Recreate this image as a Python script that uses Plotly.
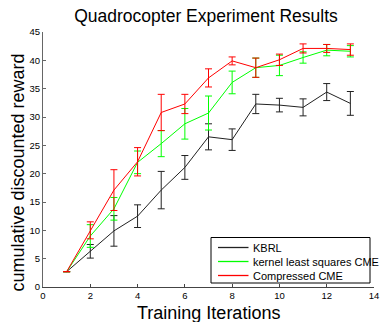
import plotly.graph_objects as go

iterations = [1, 2, 3, 4, 5, 6, 7, 8, 9, 10, 11, 12, 13]

kbrl_mean = [2.7, 6.3, 9.9, 12.5, 17.1, 21.1, 26.5, 26.0, 32.3, 32.1, 31.7, 34.4, 32.4]
kbrl_err = [0.0, 1.2, 2.7, 2.0, 3.3, 2.1, 2.3, 1.9, 1.7, 1.2, 1.5, 1.5, 2.1]

klsq_mean = [2.7, 9.0, 13.8, 22.0, 25.3, 28.8, 30.7, 36.1, 38.7, 39.1, 40.5, 41.8, 41.6]
klsq_err = [0.0, 2.0, 2.0, 2.0, 2.3, 2.7, 3.0, 2.0, 1.7, 1.8, 1.0, 1.0, 1.0]

ccme_mean = [2.7, 10.0, 17.1, 22.1, 30.8, 32.3, 36.9, 39.9, 38.7, 40.1, 42.1, 42.1, 41.9]
ccme_err = [0.0, 1.5, 3.6, 2.5, 3.2, 1.7, 1.6, 0.7, 1.7, 1.0, 0.8, 0.7, 1.0]

series_names = ["KBRL", "kernel least squares CME", "Compressed CME"]
series_colors = ["#222222", "#00ff00", "#ff0000"]

FONT = "Liberation Sans, Arial, sans-serif"

fig = go.Figure()
for name, m, e, c in zip(series_names, [kbrl_mean, klsq_mean, ccme_mean],
                         [kbrl_err, klsq_err, ccme_err], series_colors):
    fig.add_trace(go.Scatter(
        x=iterations, y=m, mode="lines", name=name, showlegend=False,
        line=dict(color=c, width=1),
        error_y=dict(type="data", array=e, visible=True, color=c, thickness=1, width=3.5),
    ))

# manual MATLAB-style legend
L, W, T, H = 43, 331, 32, 255
def px(x):
    return (x - L) / W
def py(y):
    return (T + H - y) / H

shapes = [dict(type="rect", xref="paper", yref="paper",
               x0=px(211), x1=px(370), y0=py(283), y1=py(237.5),
               line=dict(color="#000", width=1), fillcolor="white", layer="above")]
annotations = []
rows = [247.5, 261.5, 275.5]
for name, c, ry in zip(series_names, series_colors, rows):
    shapes.append(dict(type="line", xref="paper", yref="paper",
                       x0=px(218), x1=px(248.5), y0=py(ry), y1=py(ry),
                       line=dict(color=c, width=1.3), layer="above"))
    annotations.append(dict(text=name, xref="paper", yref="paper", x=px(251), y=py(ry),
                            xanchor="left", yanchor="middle", showarrow=False,
                            font=dict(family=FONT, size=11, color="#000")))

annotations.append(dict(text="Training Iterations", xref="paper", yref="paper",
                        x=px(208), y=py(313), xanchor="center", yanchor="middle", showarrow=False,
                        font=dict(family=FONT, size=18, color="#000")))
annotations.append(dict(text="cumulative discounted reward", xref="paper", yref="paper",
                        x=px(17), y=py(172.5), xanchor="center", yanchor="middle", showarrow=False,
                        textangle=-90, font=dict(family=FONT, size=18, color="#000")))

tick_font = dict(family=FONT, size=9.5, color="#000")
fig.update_layout(
    width=380, height=322,
    margin=dict(l=L, r=380 - L - W, t=T, b=322 - T - H, autoexpand=False),
    paper_bgcolor="white", plot_bgcolor="white",
    title=dict(text="Quadrocopter Experiment Results", x=206 / 380, xanchor="center",
               y=1 - 15.5 / 322, yanchor="middle",
               font=dict(family=FONT, size=17.5, color="#000")),
    xaxis=dict(range=[0, 14], tickvals=[0, 2, 4, 6, 8, 10, 12, 14], showgrid=False, zeroline=False,
               showline=True, linecolor="#444", linewidth=1, ticks="inside", ticklen=3, tickcolor="#444",
               tickfont=tick_font),
    yaxis=dict(range=[0, 45], tickvals=list(range(0, 46, 5)), showgrid=False, zeroline=False,
               showline=True, linecolor="#666", linewidth=1, ticks="inside", ticklen=3, tickcolor="#666",
               tickfont=tick_font),
    shapes=shapes,
    annotations=annotations,
    showlegend=False,
)

fig.write_html("out.html", config={"displayModeBar": False},
               post_script="document.body.style.margin='0';document.body.style.overflow='hidden';")
